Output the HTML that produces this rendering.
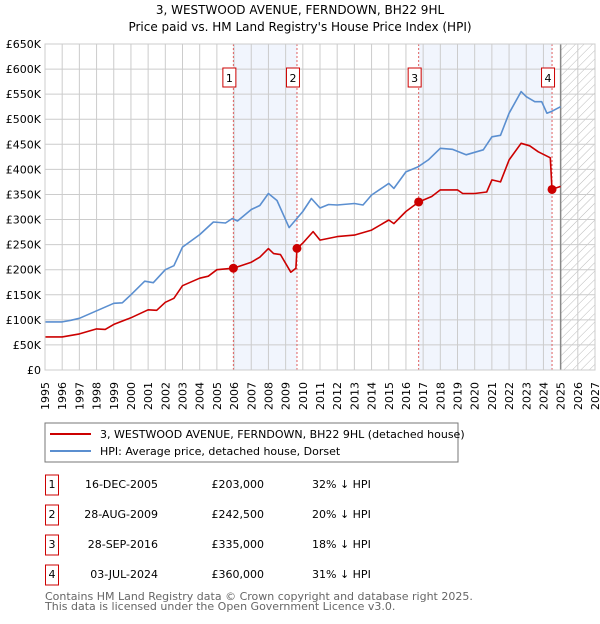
<!DOCTYPE html>
<html><head><meta charset="utf-8"><style>
body{margin:0;background:#fff;font-family:"DejaVu Sans","Liberation Sans",sans-serif;}
svg text{font-family:"DejaVu Sans","Liberation Sans",sans-serif;}
</style></head><body>
<svg id="chart" width="600" height="620" xmlns="http://www.w3.org/2000/svg">
<text x="300" y="14" text-anchor="middle" font-size="12">3, WESTWOOD AVENUE, FERNDOWN, BH22 9HL</text>
<text x="300" y="31" text-anchor="middle" font-size="12">Price paid vs. HM Land Registry's House Price Index (HPI)</text>
<defs><pattern id="hatch" patternUnits="userSpaceOnUse" width="6" height="6" patternTransform="rotate(45)"><line x1="0" y1="0" x2="0" y2="6" stroke="#bbb" stroke-width="1"/></pattern></defs>
<g id="plot"></g>
<rect x="45" y="423" width="413" height="39" fill="#fff" stroke="#777"/>
<line x1="50" y1="434" x2="91" y2="434" stroke="#cc0000" stroke-width="2"/>
<text x="100" y="438" font-size="11">3, WESTWOOD AVENUE, FERNDOWN, BH22 9HL (detached house)</text>
<line x1="50" y1="451" x2="91" y2="451" stroke="#5b8fd0" stroke-width="2"/>
<text x="100" y="455" font-size="11">HPI: Average price, detached house, Dorset</text>
<g id="table" font-size="11"></g>
<text x="45" y="600" font-size="11" fill="#666">Contains HM Land Registry data © Crown copyright and database right 2025.</text>
<text x="45" y="610" font-size="11" fill="#666">This data is licensed under the Open Government Licence v3.0.</text>
</svg>
<script>
const hpiYears=[1995,1996,1996.5,1997,1998,1999,1999.5,2000,2000.8,2001.3,2002,2002.5,2003,2004,2004.8,2005.5,2005.9,2006.2,2007,2007.5,2008,2008.5,2009.2,2010,2010.5,2011,2011.5,2012,2013,2013.5,2014,2015,2015.3,2016,2016.7,2017.3,2018,2018.7,2019.5,2020.5,2021,2021.5,2022,2022.7,2023,2023.5,2023.9,2024.2,2024.5,2025];
const hpiValues=[96,96,99,103,118,133,134,150,177,174,200,208,245,270,295,293,302,297,320,328,352,338,284,316,342,323,330,329,332,329,349,372,362,395,405,419,442,440,429,439,465,468,512,555,545,535,535,512,516,525];
const redYears=[1995,1996,1997,1998,1998.5,1999,2000,2001,2001.5,2002,2002.5,2003,2004,2004.5,2005,2005.96,2007,2007.5,2008,2008.3,2008.7,2009.3,2009.6,2009.66,2010,2010.6,2011,2012,2013,2014,2015,2015.3,2016,2016.74,2017.5,2018,2019,2019.3,2020,2020.7,2021,2021.5,2022,2022.7,2023.2,2023.7,2024.4,2024.5,2025];
const redValues=[66,66,72,82,81,91,104,120,119,135,143,168,183,187,200,203,215,225,242,232,230,195,203,242.5,253,276,259,266,269,279,299,292,316,335,346,359,359,352,352,355,379,375,419,452,447,435,423,360,366];
const saleYears=[2005.96,2009.66,2016.74,2024.5];
const saleValues=[203,242.5,335,360];
const saleLabels=["1","2","3","4"];
const saleDates=["16-DEC-2005","28-AUG-2009","28-SEP-2016","03-JUL-2024"];
const salePrices=["£203,000","£242,500","£335,000","£360,000"];
const saleDiffs=["32% ↓ HPI","20% ↓ HPI","18% ↓ HPI","31% ↓ HPI"];
const yTicks=[0,50,100,150,200,250,300,350,400,450,500,550,600,650];
const xTicks=[1995,1996,1997,1998,1999,2000,2001,2002,2003,2004,2005,2006,2007,2008,2009,2010,2011,2012,2013,2014,2015,2016,2017,2018,2019,2020,2021,2022,2023,2024,2025,2026,2027];
const X0=45,X1=595,Y0=370,Y1=44;
const xs=y=>X0+(y-1995)*(X1-X0)/32;
const ys=v=>Y0-v*(Y0-Y1)/650;
const NS="http://www.w3.org/2000/svg";
const plot=document.getElementById('plot');
function mk(tag,attrs,parent){const e=document.createElementNS(NS,tag);for(const k in attrs)e.setAttribute(k,attrs[k]);(parent||plot).appendChild(e);return e;}
let e=mk('rect',{x:X0,y:Y1,width:X1-X0,height:Y0-Y1,fill:'#fff'});


e=mk('rect',{x:xs(saleYears[0]),y:Y1,width:xs(saleYears[1])-xs(saleYears[0]),height:Y0-Y1,fill:'#eef3fd',opacity:0.8});


e=mk('rect',{x:xs(saleYears[2]),y:Y1,width:xs(saleYears[3])-xs(saleYears[2]),height:Y0-Y1,fill:'#eef3fd',opacity:0.8});


e=mk('rect',{x:xs(2025),y:Y1,width:X1-xs(2025),height:Y0-Y1,fill:'url(#hatch)'});


yTicks.forEach(v=>{
 e=mk('line',{x1:X0,x2:X1,y1:ys(v),y2:ys(v),stroke:'#ccc','stroke-width':1});
 
 
 e=mk('text',{x:X0-4,y:ys(v)+4,'text-anchor':'end','font-size':11});
 e.textContent=v===0?'£0':'£'+v+'K';
 
 
});
xTicks.forEach(y=>{
 e=mk('line',{x1:xs(y),x2:xs(y),y1:Y1,y2:Y0,stroke:'#ccc','stroke-width':1});
 
 
 e=mk('text',{x:0,y:0,'text-anchor':'end','font-size':11,transform:`translate(${xs(y)+4},${Y0+12}) rotate(-90)`});
 e.textContent=y;
 
 
});
e=mk('line',{x1:xs(2025),x2:xs(2025),y1:Y1,y2:Y0,stroke:'#888','stroke-width':1.5});


saleYears.forEach((y,i)=>{
 e=mk('line',{x1:xs(y),x2:xs(y),y1:Y1,y2:Y0,stroke:'#e06060','stroke-width':1,'stroke-dasharray':'2,2'});
 
 
 e=mk('rect',{x:xs(y)-10.5,y:68,width:13,height:19,fill:'#fff',stroke:'#cc0000','stroke-width':1});
 
 
 e=mk('text',{x:xs(y)-4,y:82,'text-anchor':'middle','font-size':11});
 e.textContent=saleLabels[i];
 
 
});
function line(xsArr,vs,color,name){
 const d=xsArr.map((y,i)=>(i?'L':'M')+xs(y).toFixed(1)+','+ys(vs[i]).toFixed(1)).join('');
 e=mk('path',{d:d,fill:'none',stroke:color,'stroke-width':1.6,'stroke-linejoin':'round'});
 
 
}
line(hpiYears,hpiValues,'#5b8fd0','hpi-line');
line(redYears,redValues,'#cc0000','price-paid-line');
saleYears.forEach((y,i)=>{
 e=mk('circle',{cx:xs(y),cy:ys(saleValues[i]),r:4.5,fill:'#cc0000'});
 
 
});
e=mk('rect',{x:X0,y:Y1,width:X1-X0,height:Y0-Y1,fill:'none',stroke:'#ccc'});


const tb=document.getElementById('table');
saleYears.forEach((y,i)=>{
 const ry=484+i*30;
 e=mk('rect',{x:45.5,y:ry-9,width:13,height:20,fill:'#fff',stroke:'#cc0000'},tb);
 
 
 e=mk('text',{x:52,y:ry+4,'text-anchor':'middle'},tb);e.textContent=saleLabels[i];
 
 
 e=mk('text',{x:158,y:ry+4,'text-anchor':'end'},tb);e.textContent=saleDates[i];
 
 
 e=mk('text',{x:264,y:ry+4,'text-anchor':'end'},tb);e.textContent=salePrices[i];
 
 
 e=mk('text',{x:312,y:ry+4},tb);e.textContent=saleDiffs[i];
 
 
});
</script>
</body></html>
